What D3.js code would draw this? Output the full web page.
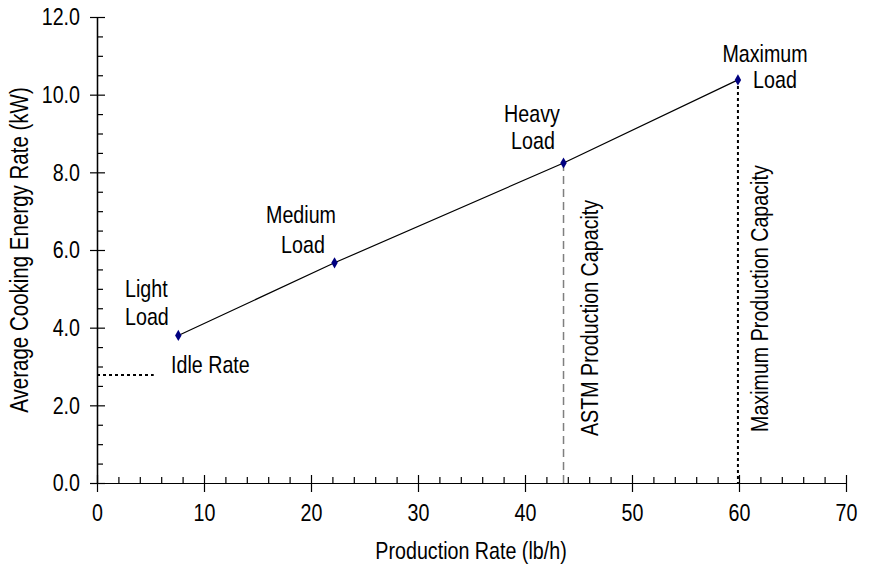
<!DOCTYPE html>
<html>
<head>
<meta charset="utf-8">
<script src="https://cdn.jsdelivr.net/npm/d3@7"></script>
<style>
  html, body { margin: 0; padding: 0; background: #fff; }
  svg text { font-family: "Liberation Sans", Arial, sans-serif; fill: #000; }
</style>
</head>
<body>
<svg id="chart" width="870" height="571"></svg>
<script>
// Cooking energy rate vs production rate for each test load
const loadNames = ["Light", "Medium", "Heavy", "Maximum"];
const productionRate = [7.6, 22.2, 43.6, 59.9];   // lb/h
const energyRate = [3.8, 5.67, 8.24, 10.38];      // kW
const idleRate = 2.78;                            // kW
const astmCapacity = 43.6;                        // lb/h
const maxCapacity = 59.9;                         // lb/h

const xTickValues = [0, 10, 20, 30, 40, 50, 60, 70];
const yTickValues = [0, 2, 4, 6, 8, 10, 12];
const xTitle = "Production Rate (lb/h)";
const yTitle = "Average Cooking Energy Rate (kW)";

const svg = d3.select("#chart");
const fontSize = 24;
const narrow = 0.82;   // horizontal squeeze for a condensed face

// place a condensed text label at (px, py), optionally rotated
function label(px, py, str, anchor = "start", rot = 0, size = fontSize) {
  return svg.append("text")
    .attr("transform", `translate(${px},${py}) rotate(${rot}) scale(${narrow},1)`)
    .attr("text-anchor", anchor)
    .attr("font-size", size)
    .text(str);
}

const x = d3.scaleLinear().domain([0, 70]).range([97, 846]);
const y = d3.scaleLinear().domain([0, 12]).range([483, 17]);

// minor ticks
const xMinor = d3.range(0, 70.001, 2).filter(v => v % 10 !== 0);
const yMinor = d3.range(0, 12.001, 0.5).filter(v => v % 2 !== 0);

// ---- y axis ----
const gy = svg.append("g").attr("transform", `translate(${x(0)},0)`);
gy.call(d3.axisLeft(y).tickValues(yTickValues).tickSize(7).tickSizeOuter(0)
  .tickFormat(d3.format(".1f")).tickPadding(10));
gy.append("g").call(d3.axisRight(y).tickValues(yTickValues).tickSize(8).tickSizeOuter(0).tickFormat(""));
gy.append("g").call(d3.axisRight(y).tickValues(yMinor).tickSize(6).tickSizeOuter(0).tickFormat(""));

// ---- x axis ----
const gx = svg.append("g").attr("transform", `translate(0,${y(0)})`);
gx.call(d3.axisBottom(x).tickValues(xTickValues).tickSize(9).tickSizeOuter(0).tickPadding(12));
gx.append("g").call(d3.axisTop(x).tickValues(xTickValues).tickSize(8).tickSizeOuter(0).tickFormat(""));
gx.append("g").call(d3.axisTop(x).tickValues(xMinor).tickSize(6).tickSizeOuter(0).tickFormat(""));

svg.selectAll(".domain, .tick line").attr("stroke", "#000").attr("stroke-width", 1.2);
svg.selectAll(".tick text")
  .attr("font-size", fontSize)
  .style("font-family", "'Liberation Sans', Arial, sans-serif")
  .each(function () {
    const t = d3.select(this);
    const tx = +t.attr("x") || 0;
    t.attr("x", tx / narrow).attr("transform", `scale(${narrow},1)`);
  });

// axis titles
label(471, 559, xTitle, "middle");
label(28, (y(0) + y(12)) / 2, yTitle, "middle", -90, 25);

// idle rate reference
svg.append("line")
  .attr("x1", x(0)).attr("x2", x(5.3)).attr("y1", y(idleRate)).attr("y2", y(idleRate))
  .attr("stroke", "#000").attr("stroke-width", 2).attr("stroke-dasharray", "3,3");
label(171, 373, "Idle Rate");

// capacity lines
svg.append("line")
  .attr("x1", x(astmCapacity)).attr("x2", x(astmCapacity))
  .attr("y1", y(energyRate[2])).attr("y2", y(0))
  .attr("stroke", "#7f7f7f").attr("stroke-width", 1.5).attr("stroke-dasharray", "8,5");
svg.append("line")
  .attr("x1", x(maxCapacity)).attr("x2", x(maxCapacity))
  .attr("y1", y(energyRate[3])).attr("y2", y(0))
  .attr("stroke", "#000").attr("stroke-width", 2).attr("stroke-dasharray", "3,3");

label(598, 436, "ASTM Production Capacity", "start", -90);
label(768, 432, "Maximum Production Capacity", "start", -90);

// energy rate line and markers
const pts = productionRate.map((p, i) => [p, energyRate[i]]);
svg.append("path").datum(pts)
  .attr("d", d3.line().x(d => x(d[0])).y(d => y(d[1])))
  .attr("fill", "none").attr("stroke", "#000").attr("stroke-width", 1.2);
svg.selectAll(".pt").data(pts).join("path")
  .attr("transform", d => `translate(${x(d[0])},${y(d[1])})`)
  .attr("d", d3.symbol(d3.symbolDiamond, 36))
  .attr("fill", "#000080");

// load labels (two lines each)
const labelLayout = [
  [[125, 297, "start"], [125, 325, "start"]],
  [[301, 223, "middle"], [303, 253, "middle"]],
  [[532, 122, "middle"], [533, 149, "middle"]],
  [[765, 62, "middle"], [775, 88, "middle"]]
];
loadNames.forEach((name, i) => {
  const words = [name, "Load"];
  labelLayout[i].forEach((l, j) => label(l[0], l[1], words[j], l[2]));
});
</script>
</body>
</html>
